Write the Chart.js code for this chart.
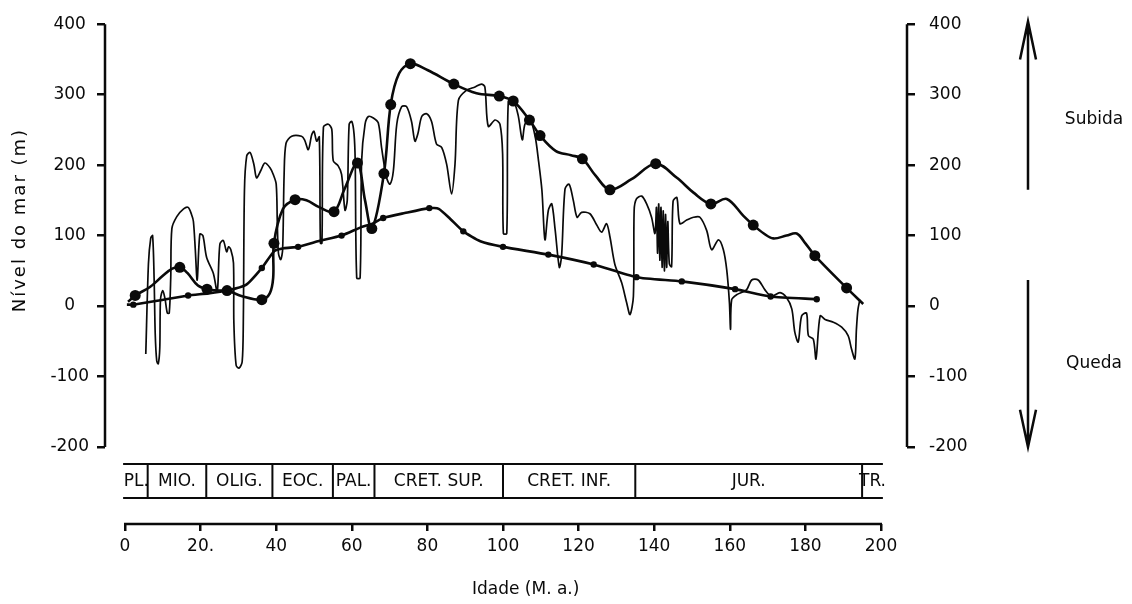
<!DOCTYPE html>
<html>
<head>
<meta charset="utf-8">
<script src="https://cdn.jsdelivr.net/npm/chart.js@4.4.0/dist/chart.umd.min.js"></script>
<style>
  html, body { margin: 0; padding: 0; background: #fff; }
  #wrap { width: 1132px; height: 604px; }
</style>
</head>
<body>
<div id="wrap"><canvas id="seaLevelChart" width="1132" height="604"></canvas></div>
<script>
// ===================== Sea level curves (Nível do mar) =====================

const INK = '#0a0a0a';
const FONT = '"DejaVu Sans", "Liberation Sans", sans-serif';

// ---------------- Axis ticks ----------------
const ageTicks = [0, 20, 40, 60, 80, 100, 120, 140, 160, 180, 200];
const ageTickLabels = ['0', '20.', '40', '60', '80', '100', '120', '140', '160', '180', '200'];
const levelTicks = [-200, -100, 0, 100, 200, 300, 400];
const levelTickLabels = ['-200', '-100', '0', '100', '200', '300', '400'];

// ---------------- Geological periods (M. a.) ----------------
const periodNames = ['PL.', 'MIO.', 'OLIG.', 'EOC.', 'PAL.', 'CRET. SUP.', 'CRET. INF.', 'JUR.', 'TR.'];
const periodStarts = [0, 6, 21.5, 39, 55, 66, 100, 135, 195];
const periodEnds = [6, 21.5, 39, 55, 66, 100, 135, 195, 200.5];

// ---------------- Thin curve (many short cycles) ----------------
const thinAges = [
  5.5, 6.2, 6.8, 7.3, 7.7, 8.0, 8.4, 8.8, 9.2, 9.4, 10.0, 10.6, 11.2, 11.7, 12.1, 12.4, 13.7, 15.5, 16.7, 17.6,
  18.1, 18.6, 19.1, 19.8, 20.6, 21.6, 23.4, 24.4, 25.1, 26.0, 26.9, 27.4, 28.0, 28.7, 28.8, 29.4, 30.2, 31.0, 31.3, 31.6,
  32.2, 33.1, 34.1, 34.8, 35.9, 37.0, 38.4, 39.2, 40.0, 40.3, 40.6, 41.2, 41.7, 42.1, 42.6, 44.1, 46.7, 47.5, 48.5, 49.4,
  50.0, 50.7, 51.4, 51.7, 52.1, 52.5, 53.8, 54.7, 55.1, 56.4, 57.3, 58.2, 58.8, 59.3, 60.0, 60.6, 60.9, 61.3, 62.2, 62.6,
  63.5, 64.4, 65.7, 67.0, 67.9, 69.2, 70.1, 71.0, 71.9, 73.2, 74.5, 75.8, 76.7, 77.5, 78.5, 79.8, 81.1, 82.4, 83.8, 85.1,
  86.4, 87.3, 88.2, 90.3, 92.6, 94.3, 95.2, 96.1, 97.9, 99.2, 99.9, 100.1, 101.0, 101.4, 102.7, 104.0, 105.1, 105.8, 107.1, 108.5,
  109.4, 110.3, 111.1, 112.0, 112.9, 113.8, 114.9, 115.5, 116.4, 117.5, 118.6, 119.6, 120.8, 123.0, 124.8, 126.1, 127.4, 128.3, 129.6, 131.4,
  132.7, 133.6, 134.5, 134.7, 135.3, 136.7, 138.0, 139.3, 140.2, 140.6, 140.9, 141.2, 141.5, 141.8, 142.1, 142.4, 142.7, 143.0, 143.3, 143.6,
  144.0, 144.6, 145.0, 146.0, 146.8, 148.6, 150.4, 152.1, 153.9, 155.2, 157.0, 158.3, 159.2, 159.9, 160.2, 160.5, 161.8, 164.4, 165.8, 167.5,
  169.3, 171.0, 173.3, 175.0, 176.4, 177.2, 178.1, 179.0, 180.3, 180.8, 182.1, 182.8, 183.9, 185.2, 187.4, 189.6, 191.3, 192.2, 193.1, 193.5,
  193.9, 194.4
];
const thinLevels = [
  -68, 60, 96, 100, 40, -40, -78, -82, -60, 10, 22, 10, -10, -10, 40, 110, 127, 138, 140, 130,
  120, 80, 37, 102, 100, 69, 46, 20, 88, 93, 77, 84, 80, 61, -23, -84, -88, -79, -23, 164,
  213, 218, 201, 182, 192, 203, 196, 187, 173, 117, 75, 66, 80, 187, 231, 241, 241, 236, 222, 243,
  248, 234, 240, 89, 89, 254, 258, 251, 206, 199, 187, 136, 150, 258, 262, 244, 206, 40, 40, 206,
  258, 269, 267, 260, 224, 182, 173, 192, 258, 283, 283, 262, 234, 245, 269, 273, 262, 230, 225, 201,
  159, 201, 292, 306, 311, 315, 311, 255, 264, 258, 216, 103, 103, 290, 292, 271, 236, 258, 266, 241,
  206, 164, 94, 136, 145, 108, 55, 71, 166, 173, 150, 126, 133, 131, 115, 105, 117, 98, 59, 33,
  5, -12, 14, 136, 152, 156, 145, 126, 103, 140, 75, 145, 65, 140, 55, 135, 50, 130, 55, 120,
  60, 56, 149, 154, 117, 122, 126, 126, 107, 80, 94, 80, 51, 5, -33, 9, 16, 23, 37, 37,
  23, 14, 19, 12, -4, -37, -51, -14, -10, -42, -47, -75, -14, -19, -23, -30, -42, -61, -75, -33,
  -5, 9
];

// ---------------- Upper curve (large dots) ----------------
const upperAges = [
  0.8, 2.7, 6.6, 10, 12.5, 14.5, 16.5, 19.3, 21.7, 24.5, 27, 31, 36.2, 38.3, 39.2, 39.4, 41.8, 45, 48, 51.5,
  55.3, 58, 61.5, 63.5, 65.3, 68.5, 70.3, 72.5, 75.5, 80, 87, 93, 99, 102.7, 107, 109.8, 114, 118, 121, 124.5,
  128.3, 134, 140.4, 146, 150.4, 155, 159.2, 163.6, 166.2, 169, 171.5, 175, 177.7, 180, 182.5, 190.9, 195.3
];
const upperLevels = [
  6, 15, 27, 43, 53, 55, 47, 29, 24, 22, 22, 14, 9, 18, 40, 89, 138, 151, 150, 140,
  134, 165, 203, 150, 110, 188, 286, 330, 344, 335, 315, 302, 298, 291, 264, 242, 220, 214, 209, 185,
  165, 180, 202, 182, 161, 145, 152, 128, 115, 103, 96, 100, 103, 89, 71.5, 25.7, 3
];
const upperDotAges = [2.7, 14.5, 21.7, 27, 36.2, 39.4, 45, 55.3, 61.5, 65.3, 68.5, 70.3, 75.5, 87, 99, 102.7, 107, 109.8, 121, 128.3, 140.4, 155, 166.2, 182.5, 190.9];

// ---------------- Lower curve (small dots) ----------------
const lowerAges = [0.5, 2.2, 9, 16.7, 22, 27, 32, 36.2, 39.5, 42, 45.8, 51, 57.3, 62.5, 65.5, 68.3, 74, 80.5, 83, 86, 89.5, 94, 100, 112, 124, 135.3, 147.3, 161.4, 170.8, 183];
const lowerLevels = [2, 2, 8, 15, 18, 22, 30, 54, 78, 82, 84, 92, 100, 112, 117, 125, 132, 139, 138, 124, 106, 92, 84, 73, 59, 41, 35, 24, 13.5, 9.7];
const lowerDotAges = [2.2, 16.7, 36.2, 45.8, 57.3, 68.3, 80.5, 89.5, 100, 112, 124, 135.3, 147.3, 161.4, 170.8, 183];

function toPoints(ages, levels) {
  return ages.map((a, i) => ({ x: a, y: levels[i] }));
}

function dotRadius(dotAges, r) {
  return ctx => (ctx.raw && dotAges.includes(ctx.raw.x) ? r : 0);
}

// ---------------- Frame, period table, titles, arrows ----------------
const framePlugin = {
  id: 'frame',
  afterDraw(chart) {
    const { ctx, chartArea, scales } = chart;
    const x = scales.x;
    const y = scales.y;
    const yTop = y.getPixelForValue(400);
    const yBot = y.getPixelForValue(-200);

    ctx.save();
    ctx.strokeStyle = INK;
    ctx.fillStyle = INK;
    ctx.lineWidth = 2.5;

    // vertical axes (only from -200 to 400)
    ctx.beginPath();
    ctx.moveTo(chartArea.left, yTop);
    ctx.lineTo(chartArea.left, yBot);
    ctx.moveTo(chartArea.right, yTop);
    ctx.lineTo(chartArea.right, yBot);
    ctx.stroke();

    // age axis line
    ctx.beginPath();
    ctx.moveTo(x.getPixelForValue(0) - 1, chartArea.bottom);
    ctx.lineTo(x.getPixelForValue(200) + 1, chartArea.bottom);
    ctx.stroke();

    // period table
    const tTop = chartArea.bottom - 60;
    const tBot = chartArea.bottom - 26;
    ctx.lineWidth = 2;
    ctx.beginPath();
    ctx.moveTo(x.getPixelForValue(-0.5), tTop);
    ctx.lineTo(x.getPixelForValue(200.5), tTop);
    ctx.moveTo(x.getPixelForValue(-0.5), tBot);
    ctx.lineTo(x.getPixelForValue(200.5), tBot);
    periodStarts.slice(1).forEach(a => {
      const px = x.getPixelForValue(a);
      ctx.moveTo(px, tTop);
      ctx.lineTo(px, tBot);
    });
    ctx.stroke();

    ctx.font = '17px ' + FONT;
    ctx.textAlign = 'center';
    ctx.textBaseline = 'middle';
    periodNames.forEach((name, i) => {
      const cx = (x.getPixelForValue(periodStarts[i]) + x.getPixelForValue(periodEnds[i])) / 2;
      ctx.fillText(name, cx, (tTop + tBot) / 2 + 1);
    });

    // x title
    ctx.font = '17px ' + FONT;
    ctx.fillText('Idade (M. a.)', x.getPixelForValue(106), chartArea.bottom + 66);

    // y title
    ctx.save();
    ctx.translate(20, y.getPixelForValue(122));
    ctx.rotate(-Math.PI / 2);
    ctx.font = '18px ' + FONT;
    ctx.letterSpacing = '2px';
    ctx.fillText('Nível do mar (m)', 0, 0);
    ctx.restore();

    // rise / fall arrows
    const ax = chartArea.right + 121;
    ctx.lineWidth = 2.5;
    ctx.beginPath();
    ctx.moveTo(ax, y.getPixelForValue(165));
    ctx.lineTo(ax, y.getPixelForValue(404));
    ctx.moveTo(ax - 8, y.getPixelForValue(350));
    ctx.lineTo(ax, y.getPixelForValue(404));
    ctx.lineTo(ax + 8, y.getPixelForValue(350));
    ctx.moveTo(ax, y.getPixelForValue(37));
    ctx.lineTo(ax, y.getPixelForValue(-200));
    ctx.moveTo(ax - 8, y.getPixelForValue(-147));
    ctx.lineTo(ax, y.getPixelForValue(-200));
    ctx.lineTo(ax + 8, y.getPixelForValue(-147));
    ctx.stroke();

    ctx.font = '17px ' + FONT;
    ctx.fillText('Subida', ax + 66, y.getPixelForValue(265));
    ctx.fillText('Queda', ax + 66, y.getPixelForValue(-81));
    ctx.restore();
  }
};

// ---------------- Chart ----------------
const tickFont = { family: FONT, size: 17 };

function levelAxis(position, width) {
  return {
    type: 'linear',
    position,
    display: true,
    min: -309.3,
    max: 400,
    border: { display: false },
    grid: { drawOnChartArea: false, drawTicks: true, tickLength: 8, color: INK, lineWidth: 2.5 },
    afterBuildTicks: s => { s.ticks = levelTicks.map(v => ({ value: v })); },
    afterFit: s => { s.width = width; },
    ticks: {
      autoSkip: false,
      color: INK,
      font: tickFont,
      padding: position === 'left' ? 8 : 14,
      crossAlign: position === 'left' ? 'center' : 'near',
      callback: v => levelTickLabels[levelTicks.indexOf(v)]
    }
  };
}

new Chart(document.getElementById('seaLevelChart'), {
  type: 'scatter',
  data: {
    datasets: [
      {
        label: 'fina',
        data: toPoints(thinAges, thinLevels),
        showLine: true,
        borderColor: INK,
        borderWidth: 1.7,
        pointRadius: 0,
        tension: 0.3,
        order: 3
      },
      {
        label: 'superior',
        data: toPoints(upperAges, upperLevels),
        showLine: true,
        borderColor: INK,
        borderWidth: 2.6,
        backgroundColor: INK,
        pointRadius: dotRadius(upperDotAges, 5.5),
        pointBorderWidth: 0,
        tension: 0.35,
        order: 1
      },
      {
        label: 'inferior',
        data: toPoints(lowerAges, lowerLevels),
        showLine: true,
        borderColor: INK,
        borderWidth: 2.6,
        backgroundColor: INK,
        pointRadius: dotRadius(lowerDotAges, 3.2),
        pointBorderWidth: 0,
        tension: 0.2,
        order: 2
      }
    ]
  },
  options: {
    responsive: false,
    animation: false,
    layout: { padding: { top: 18, left: 0, right: 0, bottom: 0 } },
    plugins: { legend: { display: false }, tooltip: { enabled: false } },
    scales: {
      x: {
        type: 'linear',
        min: -5.29,
        max: 206.88,
        border: { display: false },
        grid: { drawOnChartArea: false, drawTicks: true, tickLength: 7, color: INK, lineWidth: 2.5 },
        afterBuildTicks: s => { s.ticks = ageTicks.map(v => ({ value: v })); },
        afterFit: s => { s.height = 80; },
        ticks: {
          autoSkip: false,
          maxRotation: 0,
          color: INK,
          font: tickFont,
          padding: 5,
          callback: v => ageTickLabels[ageTicks.indexOf(v)]
        }
      },
      y: levelAxis('left', 105),
      y2: levelAxis('right', 225)
    }
  },
  plugins: [framePlugin]
});
</script>
</body>
</html>
